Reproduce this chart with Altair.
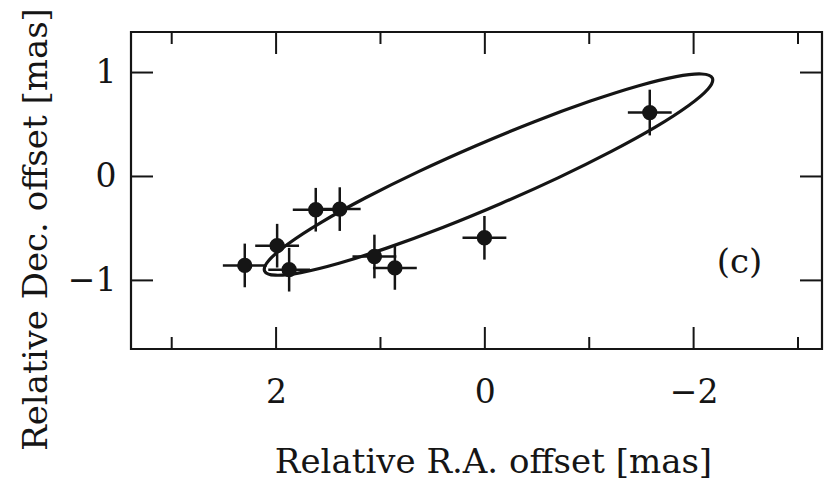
import altair as alt
import pandas as pd

# Measured positions (mas)
ra = [2.30, 1.99, 1.875, 1.62, 1.39, 1.058, 0.862, 0.004, -1.58]
dec = [-0.856, -0.666, -0.897, -0.32, -0.314, -0.77, -0.88, -0.59, 0.615]
ra_err = [0.21, 0.21, 0.20, 0.22, 0.20, 0.21, 0.21, 0.21, 0.21]
dec_err = [0.21, 0.21, 0.21, 0.21, 0.21, 0.21, 0.21, 0.21, 0.22]

# Orbit curve, points read along the drawn ellipse
orbit_ra = [-2.180, -2.076, -1.833, -1.467, -1.004, -0.474, 0.085, 0.636,
            1.142, 1.567, 1.883, 2.068, 2.110, 2.006, 1.763, 1.397,
            0.934, 0.404, -0.155, -0.706, -1.212, -1.637, -1.953, -2.138]
orbit_dec = [0.946, 0.986, 0.961, 0.871, 0.723, 0.527, 0.296, 0.047,
             -0.205, -0.441, -0.647, -0.806, -0.910, -0.950, -0.925, -0.835,
             -0.687, -0.491, -0.260, -0.011, 0.241, 0.477, 0.683, 0.842]

x_major = [2, 0, -2]
x_minor = [3, 1, -1, -3]
y_major = [1, 0, -1]

panel_label = ["(c)"]
panel_ra = [-2.44]
panel_dec = [-0.83]

W, H = 691, 317
FONT = "DejaVu Serif"
INK = "#151515"

pts = pd.DataFrame({"ra": ra, "dec": dec})
pts["ra_lo"] = [r - e for r, e in zip(ra, ra_err)]
pts["ra_hi"] = [r + e for r, e in zip(ra, ra_err)]
pts["dec_lo"] = [d - e for d, e in zip(dec, dec_err)]
pts["dec_hi"] = [d + e for d, e in zip(dec, dec_err)]

orbit = pd.DataFrame({"ra": orbit_ra, "dec": orbit_dec,
                      "k": list(range(len(orbit_ra)))})
xmaj = pd.DataFrame({"ra": x_major})
xmin = pd.DataFrame({"ra": x_minor})
ymaj = pd.DataFrame({"dec": y_major})
lab = pd.DataFrame({"ra": panel_ra, "dec": panel_dec, "t": panel_label})

xs = alt.Scale(domain=[-3.23, 3.39], reverse=True, nice=False, zero=False)
ys = alt.Scale(domain=[-1.66, 1.39], nice=False, zero=False)

xaxis = alt.Axis(values=x_major, format="d", grid=False, domain=False,
                 ticks=False, tickSize=0, labelFont=FONT, labelFontSize=33,
                 labelColor=INK, labelBaseline="alphabetic", labelPadding=53,
                 title="Relative R.A. offset [mas]", titleFont=FONT,
                 titleFontSize=34, titleFontWeight="normal", titleColor=INK,
                 titleBaseline="alphabetic", titleAlign="center",
                 titleX=362, titleY=123)
yaxis = alt.Axis(values=y_major, format="d", grid=False, domain=False,
                 ticks=False, tickSize=0, labelFont=FONT, labelFontSize=33,
                 labelColor=INK, labelAlign="right", labelBaseline="middle",
                 labelPadding=15,
                 title="Relative Dec. offset [mas]", titleFont=FONT,
                 titleFontSize=34, titleFontWeight="normal", titleColor=INK,
                 titleBaseline="alphabetic", titleAlign="center",
                 titleAngle=270, titleX=-85, titleY=197)

X = lambda f: alt.X(f, type="quantitative", scale=xs, axis=xaxis)
Y = lambda f: alt.Y(f, type="quantitative", scale=ys, axis=yaxis)

orbit_line = alt.Chart(orbit).mark_line(
    color=INK, strokeWidth=3.2, interpolate="cardinal-closed"
).encode(x=X("ra"), y=Y("dec"), order="k:Q")

hbar = alt.Chart(pts).mark_rule(color=INK, strokeWidth=2.5).encode(
    x=X("ra_lo"), x2="ra_hi", y=Y("dec"))
vbar = alt.Chart(pts).mark_rule(color=INK, strokeWidth=2.5).encode(
    x=X("ra"), y=Y("dec_lo"), y2="dec_hi")
dots = alt.Chart(pts).mark_circle(color=INK, opacity=1, size=235).encode(
    x=X("ra"), y=Y("dec"))

tick_style = dict(color=INK, strokeWidth=2)
t1 = alt.Chart(xmaj).mark_rule(**tick_style).encode(
    x=X("ra"), y=alt.value(H), y2=alt.value(H - 22))
t2 = alt.Chart(xmaj).mark_rule(**tick_style).encode(
    x=X("ra"), y=alt.value(0), y2=alt.value(22))
t3 = alt.Chart(xmin).mark_rule(**tick_style).encode(
    x=X("ra"), y=alt.value(H), y2=alt.value(H - 12))
t4 = alt.Chart(xmin).mark_rule(**tick_style).encode(
    x=X("ra"), y=alt.value(0), y2=alt.value(12))
t5 = alt.Chart(ymaj).mark_rule(**tick_style).encode(
    y=Y("dec"), x=alt.value(0), x2=alt.value(22))
t6 = alt.Chart(ymaj).mark_rule(**tick_style).encode(
    y=Y("dec"), x=alt.value(W), x2=alt.value(W - 22))

label = alt.Chart(lab).mark_text(
    font=FONT, fontSize=34, color=INK, align="center", baseline="middle"
).encode(x=X("ra"), y=Y("dec"), text="t:N")

chart = alt.layer(
    orbit_line, hbar, vbar, dots, t1, t2, t3, t4, t5, t6, label
).properties(
    width=W, height=H,
    background="white",
    padding={"left": 123, "top": 24, "right": 2, "bottom": 130},
    autosize=alt.AutoSizeParams(type="none"),
).configure_view(
    stroke=INK, strokeWidth=2.2
)

chart.save("out.html", embed_options={"renderer": "svg", "actions": False})
